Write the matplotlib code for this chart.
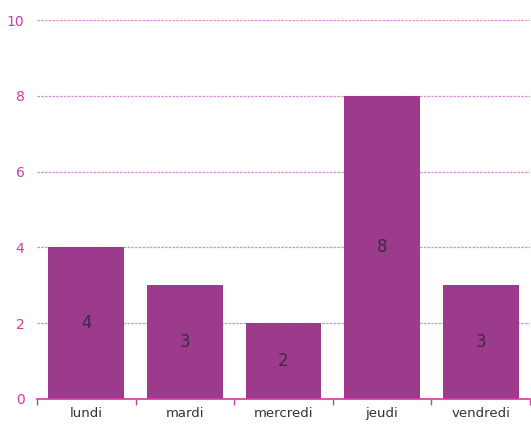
import matplotlib
matplotlib.use("Agg")
import matplotlib.pyplot as plt
import numpy as np

categories = ["lundi", "mardi", "mercredi", "jeudi", "vendredi"]
values = [4, 3, 2, 8, 3]
yticks = [0, 2, 4, 6, 8, 10]

fig = plt.figure(figsize=(5.31, 4.25), dpi=100)
ax = fig.add_axes([37/531, 26/425, 493/531, 379/425])

x = np.arange(len(categories))
ax.bar(x, values, width=0.77, color="#9c3b8c", zorder=3)
for xi, v in zip(x, values):
    ax.text(xi, v / 2, str(v), ha="center", va="center", fontsize=12, color="#3b2a45", zorder=4)

ax.set_xlim(-0.5, len(categories) - 0.5)
ax.set_ylim(0, 10)
ax.set_yticks(yticks)
ax.set_yticklabels([str(t) for t in yticks], color="#d23aa8", fontsize=10)
ax.tick_params(axis="y", length=0, pad=9)
ax.yaxis.grid(True, color="#d98ad0", linestyle=(0, (2, 1)), linewidth=0.9, zorder=0)

ax.set_xticks(x)
ax.set_xticklabels(categories, fontsize=9.5, color="#333333")
ax.tick_params(axis="x", length=0, pad=6)
ax.set_xticks(np.arange(-0.5, len(categories)), minor=True)
ax.tick_params(axis="x", which="minor", length=4, color="#d23aa8", width=1)

for s in ["top", "right", "left"]:
    ax.spines[s].set_visible(False)
ax.spines["bottom"].set_color("#d23aa8")
ax.spines["bottom"].set_linewidth(1.2)
ax.spines["bottom"].set_zorder(5)

fig.savefig("out.png", dpi=100)
